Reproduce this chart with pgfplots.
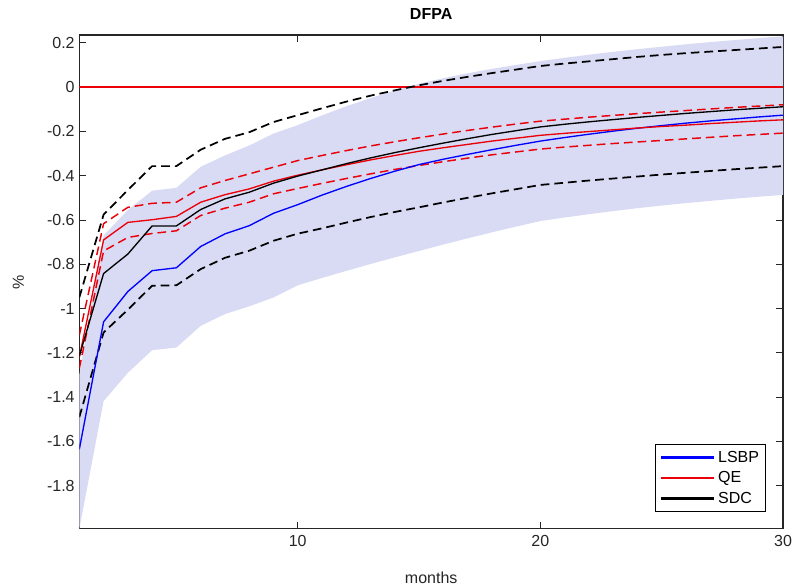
\documentclass[border=0pt]{standalone}
\usepackage{pgfplots}
\pgfplotsset{compat=1.18}
\usepackage{pgfplotstable}
\usepgfplotslibrary{fillbetween}
\usepackage{fontspec}
\setmainfont{Liberation Sans}
\definecolor{axgray}{RGB}{38,38,38}
\definecolor{band}{RGB}{216,219,243}
\definecolor{mred}{RGB}{235,0,10}
\definecolor{mblue}{RGB}{0,0,255}
% legend sample drawn in a fixed colour
\pgfplotsset{longline/.style={legend image code/.code={\draw[draw=#1, line width=2pt] (0pt,0pt) -- (40pt,0pt);}}}

% columns: month, band upper/lower, LSBP, QE (+bands), SDC (+bands)
\pgfplotstableread{
x  U      L      lsbp   qe     qeu    qel    sdc    sdcu   sdcl
1  -1.300 -1.995 -1.635 -1.220 -1.120 -1.270 -1.215 -0.950 -1.490
2  -0.670 -1.418 -1.060 -0.690 -0.617 -0.740 -0.842 -0.576 -1.108
3  -0.555 -1.290 -0.923 -0.611 -0.543 -0.679 -0.754 -0.465 -1.005
4  -0.468 -1.188 -0.829 -0.599 -0.525 -0.661 -0.627 -0.357 -0.897
5  -0.455 -1.176 -0.816 -0.584 -0.520 -0.649 -0.627 -0.357 -0.895
6  -0.360 -1.078 -0.720 -0.520 -0.455 -0.580 -0.553 -0.283 -0.822
7  -0.309 -1.025 -0.663 -0.486 -0.422 -0.547 -0.505 -0.234 -0.771
8  -0.264 -0.990 -0.626 -0.460 -0.392 -0.520 -0.475 -0.204 -0.739
9  -0.210 -0.950 -0.570 -0.425 -0.362 -0.482 -0.434 -0.158 -0.694
10 -0.172 -0.895 -0.531 -0.398 -0.332 -0.458 -0.402 -0.127 -0.662
11 -0.128 -0.862 -0.488 -0.374 -0.309 -0.435 -0.374 -0.096 -0.638
12 -0.087 -0.830 -0.449 -0.351 -0.287 -0.413 -0.346 -0.066 -0.612
13 -0.050 -0.799 -0.413 -0.329 -0.266 -0.392 -0.320 -0.039 -0.587
14 -0.016 -0.769 -0.380 -0.309 -0.247 -0.372 -0.296 -0.015 -0.564
15  0.015 -0.740 -0.350 -0.290 -0.229 -0.354 -0.274  0.008 -0.543
16  0.040 -0.711 -0.326 -0.274 -0.212 -0.337 -0.253  0.028 -0.521
17  0.062 -0.683 -0.304 -0.259 -0.196 -0.321 -0.233  0.046 -0.500
18  0.082 -0.656 -0.283 -0.244 -0.181 -0.306 -0.214  0.063 -0.480
19  0.100 -0.630 -0.263 -0.231 -0.167 -0.293 -0.197  0.079 -0.461
20  0.117 -0.605 -0.244 -0.218 -0.154 -0.280 -0.180  0.095 -0.442
21  0.132 -0.589 -0.228 -0.209 -0.145 -0.271 -0.168  0.106 -0.432
22  0.146 -0.574 -0.213 -0.201 -0.136 -0.263 -0.157  0.116 -0.422
23  0.159 -0.560 -0.199 -0.193 -0.128 -0.255 -0.147  0.126 -0.413
24  0.171 -0.547 -0.186 -0.185 -0.120 -0.248 -0.137  0.136 -0.404
25  0.182 -0.535 -0.174 -0.178 -0.113 -0.241 -0.128  0.145 -0.395
26  0.193 -0.524 -0.163 -0.172 -0.106 -0.234 -0.119  0.153 -0.387
27  0.203 -0.514 -0.153 -0.165 -0.099 -0.227 -0.111  0.160 -0.379
28  0.212 -0.504 -0.144 -0.159 -0.092 -0.220 -0.103  0.167 -0.371
29  0.221 -0.495 -0.135 -0.153 -0.086 -0.214 -0.096  0.174 -0.364
30  0.229 -0.487 -0.127 -0.148 -0.080 -0.208 -0.089  0.181 -0.357
}\irf

\begin{document}
\begin{tikzpicture}
\begin{axis}[
    name=ax,
    width=527.8pt, height=370.5pt, scale only axis,
    xmin=1, xmax=30, ymin=-1.995, ymax=0.235,
    xtick={10,20,30},
    xticklabels={10,20,30},
    ytick={-1.8,-1.6,-1.4,-1.2,-1,-0.8,-0.6,-0.4,-0.2,0,0.2},
    yticklabels={-1.8,-1.6,-1.4,-1.2,-1,-0.8,-0.6,-0.4,-0.2,0,0.2},
    font=\fontsize{12}{14}\selectfont,
    tick label style={text=axgray},
    xticklabel style={yshift=-1pt},
    tick align=inside, major tick length=5.25pt,
    tick style={draw=axgray, line width=0.6pt},
    axis line style={draw=axgray, line width=0.8pt},
    title={\textbf{DFPA}},
    title style={at={(axis description cs:0.5,1.0144)}, anchor=base},
    xlabel={months},
    xlabel style={at={(axis description cs:0.5,-0.1113)}, anchor=base, text=axgray},
    ylabel={\%},
    ylabel style={at={(axis description cs:-0.0867,0.5)}, anchor=center, text=axgray},
    legend style={at={(axis description cs:0.9758,0.0344)}, anchor=south east,
        fill=white, font=\fontsize{12}{14}\selectfont,
        row sep=1.5pt, inner sep=3pt},
    legend cell align=left,
]
\addplot[name path=up, draw=none, forget plot] table[x=x, y=U] {\irf};
\addplot[name path=lo, draw=none, forget plot] table[x=x, y=L] {\irf};
\addplot[band, forget plot] fill between[of=up and lo];

\addplot[mred, line width=0.9pt, forget plot] coordinates {(1,0) (30,0)};

\addplot[mred, line width=1.1pt, dash pattern=on 6.5pt off 3.75pt, forget plot] table[x=x, y=qeu] {\irf};
\addplot[mred, line width=1.1pt, dash pattern=on 6.5pt off 3.75pt, forget plot] table[x=x, y=qel] {\irf};
\addplot[black, line width=1.3pt, dash pattern=on 6.5pt off 3.75pt, forget plot] table[x=x, y=sdcu] {\irf};
\addplot[black, line width=1.3pt, dash pattern=on 6.5pt off 3.75pt, forget plot] table[x=x, y=sdcl] {\irf};

\addplot[mblue, line width=1pt, longline=mblue] table[x=x, y=lsbp] {\irf};
\addlegendentry{LSBP}
\addplot[mred, line width=1pt, longline=mred] table[x=x, y=qe] {\irf};
\addlegendentry{QE}
\addplot[black, line width=1pt, longline=black] table[x=x, y=sdc] {\irf};
\addlegendentry{SDC}
\end{axis}
\pgfresetboundingbox
\path[use as bounding box] ([shift={(-59.5pt,-44.25pt)}]ax.south west)
    rectangle ([shift={(536.8pt,396.75pt)}]ax.south west);
\end{tikzpicture}
\end{document}
